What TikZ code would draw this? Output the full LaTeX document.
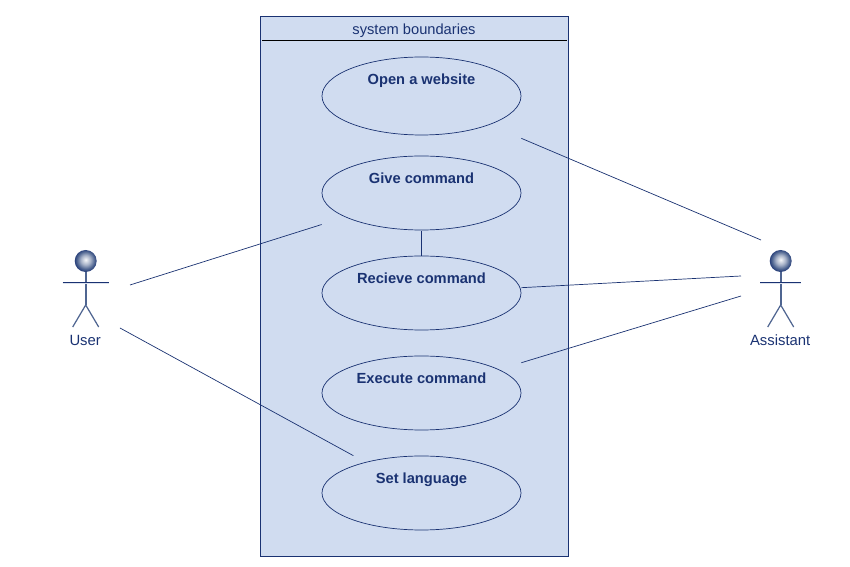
\documentclass[tikz,border=0pt]{standalone}
\usepackage{fontspec}
\setmainfont{Liberation Sans}

\definecolor{umlblue}{HTML}{1A3272}
\definecolor{umlfill}{HTML}{D0DCF0}
\definecolor{umlgrey}{HTML}{4F6591}
\definecolor{umlshade}{HTML}{DDE3EE}

\pgfdeclareradialshading{actorball}{\pgfpoint{0bp}{3bp}}{%
  color(0bp)=(white!95!umlgrey);
  color(11bp)=(white!50!umlgrey);
  color(20bp)=(umlgrey);
  color(27bp)=(umlblue);
  color(50bp)=(umlblue)}

\newcommand{\actor}[4]{%
  \node[actorhead] (#1head) at (#2,261) {};
  \draw[actorline] (#1head) -- (#2,305) coordinate (#1hip);
  \draw[actorshade] (#2-#4,283.5) coordinate (#1sleft) -- (#2+#4,283.5) coordinate (#1sright);
  \draw[actorarm] (#2-#4,282) coordinate (#1left) -- (#2+#4,282) coordinate (#1right);
  \draw[actorleg] (#2-13,327) coordinate (#1foot) -- (#1hip) -- (#2+13,327) coordinate (#1foot2);
  \node[actorlabel] (#1) at (#2-0.5,346) {#3};
}

\begin{document}
\begin{tikzpicture}[x=0.02cm,y=-0.02cm,
                    link/.style={umlblue,line width=0.4pt},
                    usecase/.style={rectangle,inner sep=0pt,minimum width=3.98cm,
                                    text=umlblue,font=\fontsize{8.35}{9}\selectfont\bfseries},
                    oval/.style={draw=umlblue,line width=0.4pt},
                    actorhead/.style={circle,inner sep=0pt,minimum size=0.44cm,shading=actorball},
                    actorline/.style={umlgrey,line width=1pt},
                    actorshade/.style={umlshade,line width=0.6pt},
                    actorarm/.style={umlblue,line width=0.5pt},
                    actorleg/.style={umlgrey,line width=0.7pt},
                    actorlabel/.style={text=umlblue,font=\fontsize{8.45}{9}\selectfont,inner sep=0pt,anchor=base}]
  \useasboundingbox (0,0) rectangle (850,567);

  % system frame
  \node[draw=umlblue,fill=umlfill,line width=0.5pt,inner sep=0pt,minimum width=6.16cm,minimum height=10.8cm] (system) at (414.3,286.5) {};
  \node[text=umlblue,font=\fontsize{8.35}{9}\selectfont,inner sep=0pt] (title) at (414,31) {system boundaries};
  \draw[black,line width=0.5pt] (262,40) coordinate (titleleft) -- (567,40) coordinate (titleright);

  % use cases
  \foreach \name/\ypos/\ry/\hbound/\dep/\txt in {open/96/39/43/19.3/Open a website,give/193/37/38/17/Give command,recieve/293/37/37/17/Recieve command,execute/393/37/37/17/Execute command,setlang/493/37/37/17/Set language}
  {
    \node[usecase,minimum height=2*\hbound*0.02cm,text depth=\dep pt] (\name) at (421.5,\ypos) {\txt};
    \draw[oval] (\name.center) ellipse [x radius=99.5,y radius=\ry];
  }

  % actors
  \actor{user}{85.7}{User}{23}
  \actor{assistant}{780.7}{Assistant}{20.5}

  % free ends beside the actors
  \coordinate (usera) at (130,285);
  \coordinate (userb) at (120,328);
  \coordinate (assta) at (761,240);
  \coordinate (asstb) at (741,276);
  \coordinate (asstc) at (741,296);

  % associations
  \draw[link] (usera) -- (give);
  \draw[link] (userb) -- (setlang);
  \draw[link] (give) -- (recieve);
  \draw[link] (assta) -- (open);
  \draw[link] (asstb) -- (recieve);
  \draw[link] (asstc) -- (execute);
\end{tikzpicture}
\end{document}
